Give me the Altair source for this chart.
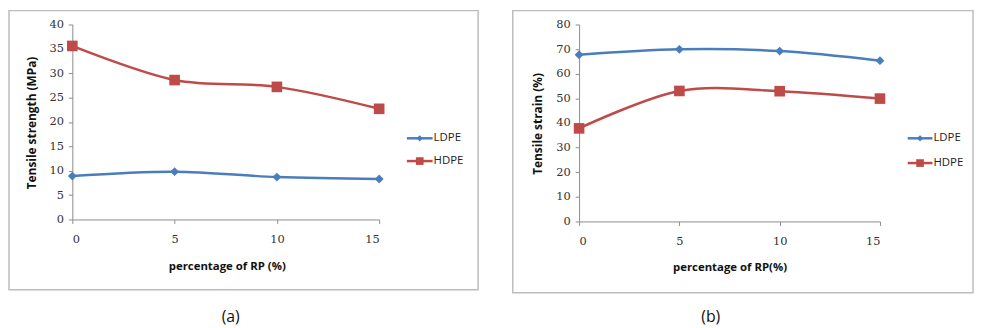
import altair as alt
import pandas as pd

# ---- data ----
rp_percent = [0, 5, 10, 15]
series_names = ["LDPE", "HDPE"]

strength_ldpe = [8.9, 9.8, 8.7, 8.3]
strength_hdpe = [35.6, 28.6, 27.2, 22.7]

strain_ldpe = [67.7, 69.9, 69.2, 65.3]
strain_hdpe = [37.8, 53.0, 52.9, 49.9]

x_ticks = [0, 5, 10, 15]
y_ticks_a = [0, 5, 10, 15, 20, 25, 30, 35, 40]
y_ticks_b = [0, 10, 20, 30, 40, 50, 60, 70, 80]

BLUE = "#4A7EBB"
RED = "#BE4B48"
AXIS_GRAY = "#8C8C8C"
FRAME_GRAY = "#BDBDBD"
SERIF = "DejaVu Serif"
SANS = "Open Sans"


def make_df(ldpe, hdpe):
    rows = []
    for x, v in zip(rp_percent, ldpe):
        rows.append({"x": x, "v": v, "s": "LDPE"})
    for x, v in zip(rp_percent, hdpe):
        rows.append({"x": x, "v": v, "s": "HDPE"})
    return pd.DataFrame(rows)


def panel(df, ymax, yticks, ytitle, xtitle, w, h, frame, leg, caption, ytitle_pos, xtitle_pos):
    xs = alt.X(
        "x:Q",
        scale=alt.Scale(domain=[0, 15], nice=False, zero=False),
        axis=alt.Axis(
            values=x_ticks, title=xtitle, grid=False, domainColor=AXIS_GRAY, tickColor=AXIS_GRAY,
            tickSize=4, labelPadding=10, labelFont=SERIF, labelFontSize=11.5, labelColor="#333333",
            titleFont=SANS, titleFontSize=11.5, titleFontWeight="bold", titleColor="#111111",
            titleX=xtitle_pos[0], titleY=xtitle_pos[1], titleBaseline="middle", titleAlign="center",
        ),
    )
    ys = alt.Y(
        "v:Q",
        scale=alt.Scale(domain=[0, ymax], nice=False),
        axis=alt.Axis(
            values=yticks, title=ytitle, grid=False, domainColor=AXIS_GRAY, tickColor=AXIS_GRAY,
            tickSize=4, labelPadding=5, labelFont=SERIF, labelFontSize=11.5, labelColor="#333333",
            titleFont=SANS, titleFontSize=12, titleFontWeight="bold", titleColor="#111111",
            titleX=ytitle_pos[0], titleY=ytitle_pos[1], titleBaseline="middle", titleAlign="center",
            titleAngle=270,
        ),
    )
    color = alt.Color("s:N", scale=alt.Scale(domain=series_names, range=[BLUE, RED]), legend=None)
    shape = alt.Shape("s:N", scale=alt.Scale(domain=series_names, range=["diamond", "square"]), legend=None)
    size = alt.Size("s:N", scale=alt.Scale(domain=series_names, range=[80, 115]), legend=None)

    base = alt.Chart(df)
    lines = base.mark_line(interpolate="cardinal", strokeWidth=2.5).encode(x=xs, y=ys, color=color, detail="s:N")
    points = base.mark_point(filled=True, opacity=1).encode(x=xs, y=ys, color=color, shape=shape, size=size)

    one = pd.DataFrame({"k": [0]})
    fr = alt.Chart(one).mark_rect(fill=None, stroke=FRAME_GRAY, strokeWidth=1.5).encode(
        x=alt.value(frame[0]), x2=alt.value(frame[1]), y=alt.value(frame[2]), y2=alt.value(frame[3])
    )
    cap = alt.Chart(pd.DataFrame({"t": [caption]})).mark_text(
        font=SANS, fontSize=16, color="#111111", align="center", baseline="middle"
    ).encode(text="t:N", x=alt.value(leg["cap_x"]), y=alt.value(leg["cap_y"]))

    legend_layers = []
    for i, name in enumerate(series_names):
        col = [BLUE, RED][i]
        yv = leg["y"][i]
        ldf = pd.DataFrame({"s": [name]})
        legend_layers.append(
            alt.Chart(ldf).mark_rule(color=col, strokeWidth=2.5).encode(
                x=alt.value(leg["x0"]), x2=alt.value(leg["x1"]), y=alt.value(yv)
            )
        )
        legend_layers.append(
            alt.Chart(ldf).mark_point(filled=True, opacity=1, color=col, shape=["diamond", "square"][i],
                                      size=[40, 60][i]).encode(
                x=alt.value((leg["x0"] + leg["x1"]) / 2), y=alt.value(yv)
            )
        )
        legend_layers.append(
            alt.Chart(ldf).mark_text(font=SANS, fontSize=11.5, color="#222222", align="left", baseline="middle").encode(
                text="s:N", x=alt.value(leg["x1"] + 1), y=alt.value(yv)
            )
        )

    return alt.layer(fr, lines, points, cap, *legend_layers).properties(width=w, height=h)


df_a = make_df(strength_ldpe, strength_hdpe)
df_b = make_df(strain_ldpe, strain_hdpe)

pa = panel(
    df_a, 40, y_ticks_a, "Tensile strength (MPa)", "percentage of RP (%)", 310, 197,
    frame=(-64, 410, -14, 268),
    leg={"x0": 338, "x1": 364, "y": [115, 138], "cap_x": 160, "cap_y": 296},
    caption="(a)", ytitle_pos=(-41, 99), xtitle_pos=(156, 48),
)
pb = panel(
    df_b, 80, y_ticks_b, "Tensile strain (%)", "percentage of RP(%)", 304, 199,
    frame=(-67, 398, -14, 271),
    leg={"x0": 332, "x1": 357, "y": [115, 140], "cap_x": 133, "cap_y": 296},
    caption="(b)", ytitle_pos=(-42, 100), xtitle_pos=(152, 47),
)

chart = alt.hconcat(pa, pb, spacing=33).properties(padding=0).configure_view(stroke=None)

chart.save("out.html", embed_options={"renderer": "svg", "actions": False})
